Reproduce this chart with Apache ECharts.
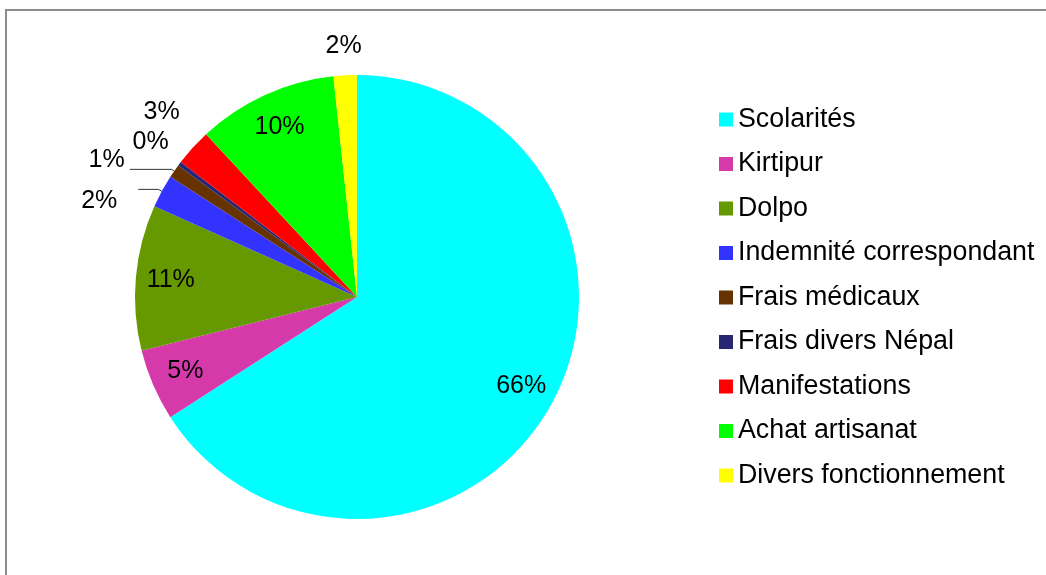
<!DOCTYPE html>
<html>
<head>
<meta charset="utf-8">
<script src="https://cdn.jsdelivr.net/npm/echarts@6/dist/echarts.min.js"></script>
<style>
    html, body { margin: 0; padding: 0; background: #fff; overflow: hidden; }
    #frame {
        position: absolute; left: 5px; top: 9px;
        width: 1100px; height: 700px;
        border: 2px solid #8c8c8c;
    }
    #chart-box { position: absolute; left: 0; top: 0; width: 1046px; height: 575px; }
</style>
</head>
<body>
<div id="frame"></div>
<div id="chart-box"></div>
<script>
// postes de dépenses (en %)
var categories = ['Scolarités', 'Kirtipur', 'Dolpo', 'Indemnité correspondant', 'Frais médicaux',
    'Frais divers Népal', 'Manifestations', 'Achat artisanat', 'Divers fonctionnement'];
var values = [65.9, 5.2, 10.6, 2.4, 1.0, 0.3, 2.7, 10.2, 1.7];
var colors = ['#00ffff', '#d639aa', '#669900', '#3333ff', '#663300', '#262673', '#ff0000', '#00ff00', '#ffff00'];

// où va l'étiquette de chaque part : 'in' = dans la part, 'line' = dehors avec trait,
// 'r1'/'r2'/'r3' = juste à l'extérieur, sans trait
var labelPlace = ['in', 'in', 'in', 'line', 'line', 'r2', 'r3', 'in', 'r1'];
// réglages des étiquettes 'line' : [length, length2, padding, texte au-dessus/dessous du trait, lineHeight]
var lineConf = {
    3: [4, 20, [0, 16, 0, 0], 'below', 24],
    4: [3, 42, [0, 0, 0, 0], 'above', 18]
};

var FONT = '"Liberation Sans", Arial, sans-serif';
var CENTER = [357, 297];
var R = 222;

function pctLabel(p) {
    return Math.round(p.percent) + '%';
}

// série principale : les parts colorées et les étiquettes avec trait
function mainData() {
    var res = [];
    for (let i = 0; i < categories.length; ++i) {
        var item = {
            name: categories[i],
            value: values[i],
            itemStyle: { color: colors[i] },
            label: { show: false },
            labelLine: { show: false }
        };
        if (labelPlace[i] == 'line') {
            let c = lineConf[i];
            item.label = {
                show: true,
                padding: c[2],
                lineHeight: c[4],
                formatter: function(p) {
                    // une ligne vide décale le texte par rapport au trait
                    return c[3] == 'above' ? pctLabel(p) + '\n ' : ' \n' + pctLabel(p);
                }
            };
            item.labelLine = { show: true, length: c[0], length2: c[1] };
        }
        res.push(item);
    }
    return res;
}

// anneau transparent qui sert seulement à placer des étiquettes
function ringSeries(place, radius, padding) {
    var res = [];
    for (let i = 0; i < categories.length; ++i) {
        res.push({
            name: categories[i],
            value: values[i],
            itemStyle: { color: 'rgba(0,0,0,0)' },
            label: { show: labelPlace[i] == place }
        });
    }
    return {
        type: 'pie',
        center: CENTER,
        radius: radius,
        startAngle: 90,
        clockwise: true,
        silent: true,
        data: res,
        label: {
            position: 'inside',
            formatter: pctLabel,
            padding: padding || 0,
            fontFamily: FONT,
            fontSize: 25,
            color: '#000'
        },
        labelLayout: { hideOverlap: false },
        emphasis: { disabled: true }
    };
}

var chart = echarts.init(document.getElementById('chart-box'));
var option = {
    animation: false,
    legend: {
        orient: 'vertical',
        left: 719,
        top: 106,
        padding: 0,
        icon: 'rect',
        itemWidth: 14,
        itemHeight: 14,
        itemGap: 17.5,
        selectedMode: false,
        data: categories,
        textStyle: { fontFamily: FONT, fontSize: 26.8, lineHeight: 26, color: '#000' }
    },
    series: [{
        type: 'pie',
        center: CENTER,
        radius: R,
        startAngle: 90,
        clockwise: true,
        avoidLabelOverlap: false,
        data: mainData(),
        label: {
            position: 'outside',
            formatter: pctLabel,
            fontFamily: FONT,
            fontSize: 25,
            color: '#000'
        },
        labelLine: {
            lineStyle: { color: '#333', width: 1 }
        },
        labelLayout: { hideOverlap: false },
        emphasis: { disabled: true }
    },
    ringSeries('in', [146, R]),
    ringSeries('r1', [236, 260]),
    ringSeries('r2', [244, 266]),
    ringSeries('r3', [260, 284], [0, 0, 0, 16])
    ]
};
chart.setOption(option);
</script>
</body>
</html>
